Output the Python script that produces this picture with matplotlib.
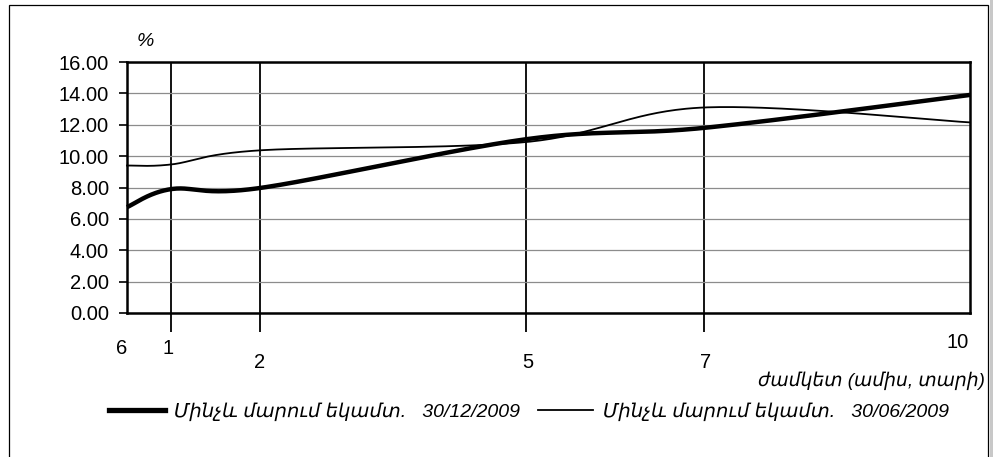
import numpy as np
import matplotlib
matplotlib.use("Agg")
import matplotlib.pyplot as plt
from matplotlib.patches import Rectangle
from matplotlib.lines import Line2D

# ---- data ----
maturities = [0.5, 1, 2, 5, 7, 10]          # years (6 months ... 10 years)
tick_labels = ["6", "1", "2", "5", "7", "10"]
yield_dec2009 = [6.75, 7.90, 7.97, 11.08, 11.80, 13.90]
yield_jun2009 = [9.40, 9.47, 10.37, 10.90, 13.10, 12.15]
series_labels = ["Մինչև մարում եկամտ.   30/12/2009",
                 "Մինչև մարում եկամտ.   30/06/2009"]
y_ticks = [0, 2, 4, 6, 8, 10, 12, 14, 16]

FONT = ['Liberation Sans', 'DejaVu Sans']
plt.rcParams['font.family'] = FONT


def smooth(xs, ys, n=60):
    """Excel-like smoothed line: cubic Bezier through points."""
    P = np.column_stack([xs, ys]).astype(float)
    k = len(P)
    out = []
    for i in range(k - 1):
        p0 = P[i]
        p3 = P[i + 1]
        prev = P[i - 1] if i > 0 else P[i]
        nxt = P[i + 2] if i + 2 < k else P[i + 1]
        c1 = p0 + (p3 - prev) / 6.0
        c2 = p3 - (nxt - p0) / 6.0
        t = np.linspace(0, 1, n)[:, None]
        seg = ((1 - t) ** 3) * p0 + 3 * ((1 - t) ** 2) * t * c1 + \
            3 * (1 - t) * t ** 2 * c2 + t ** 3 * p3
        out.append(seg if i == 0 else seg[1:])
    out = np.vstack(out)
    return out[:, 0], out[:, 1]


W, H = 993, 457
fig = plt.figure(figsize=(W / 100, H / 100), dpi=100)

# outer frame
fig.patches.append(Rectangle((9 / W, -0.05), (988 - 9) / W, 1.05 - 5 / H,
                             transform=fig.transFigure, fill=False,
                             edgecolor='black', linewidth=0.9))
fig.patches.append(Rectangle((989.5 / W, 0), 4 / W, 1,
                             transform=fig.transFigure, facecolor='#c8c8c8',
                             edgecolor='none'))

ax = fig.add_axes([127 / W, 1 - 313 / H, (970 - 127) / W, (313 - 62) / H])
ax.set_xlim(0.5, 10)
ax.set_ylim(0, 16)

ax.set_yticks(y_ticks)
ax.set_yticklabels([f"{v:.2f}" for v in y_ticks])
ax.tick_params(axis='y', length=6, width=1.2, pad=7, labelsize=14.5,
               direction='out', color='black')
ax.yaxis.grid(True, color='#8c8c8c', linewidth=0.9)

# vertical lines at 1, 2, 5, 7 with ticks extending below the axis
ax.set_xticks(maturities[1:-1])
ax.set_xticklabels([])
ax.tick_params(axis='x', length=14, width=1.3, direction='out', color='black')
ax.xaxis.grid(True, color='black', linewidth=1.3)
ax.set_axisbelow(True)

for s in ax.spines.values():
    s.set_linewidth(1.8)
    s.set_color('black')

xs, ys = smooth(maturities, yield_dec2009)
ax.plot(xs, ys, color='black', linewidth=3.2, solid_capstyle='butt',
        clip_on=False, zorder=4)
xs, ys = smooth(maturities, yield_jun2009)
ax.plot(xs, ys, color='black', linewidth=1.3, clip_on=False, zorder=5)

# staggered maturity labels (offsets in pixels -> points)
label_offsets = [(-5, -36), (-3.5, -36), (-1, -50), (1.7, -50), (2, -49), (-12, -29)]
for m, lab, (dx, dy) in zip(maturities, tick_labels, label_offsets):
    ax.annotate(lab, xy=(m, 0), xycoords=('data', 'axes fraction'),
                xytext=(dx * 0.72, dy * 0.72), textcoords='offset points',
                ha='center', va='center', fontsize=14.5, annotation_clip=False)

# "%" unit label
fig.text(145 / W, 1 - 41 / H, "%", fontsize=14, style='italic',
         ha='center', va='center')

# x-axis title
fig.text(985 / W, 1 - 381 / H, "ժամկետ (ամիս, տարի)", fontsize=13.5,
         style='italic', ha='right', va='center')

# legend
handles = [Line2D([], [], color='black', linewidth=3.8),
           Line2D([], [], color='black', linewidth=1.3)]
leg = fig.legend(handles, series_labels, loc='center left',
                 bbox_to_anchor=(109 / W, 1 - 412 / H), ncol=2, frameon=False,
                 prop={'family': FONT, 'style': 'italic', 'size': 14},
                 handlelength=2.86, handletextpad=0.5, columnspacing=0.9,
                 borderpad=0, borderaxespad=0)

fig.savefig("out.png", dpi=100)
